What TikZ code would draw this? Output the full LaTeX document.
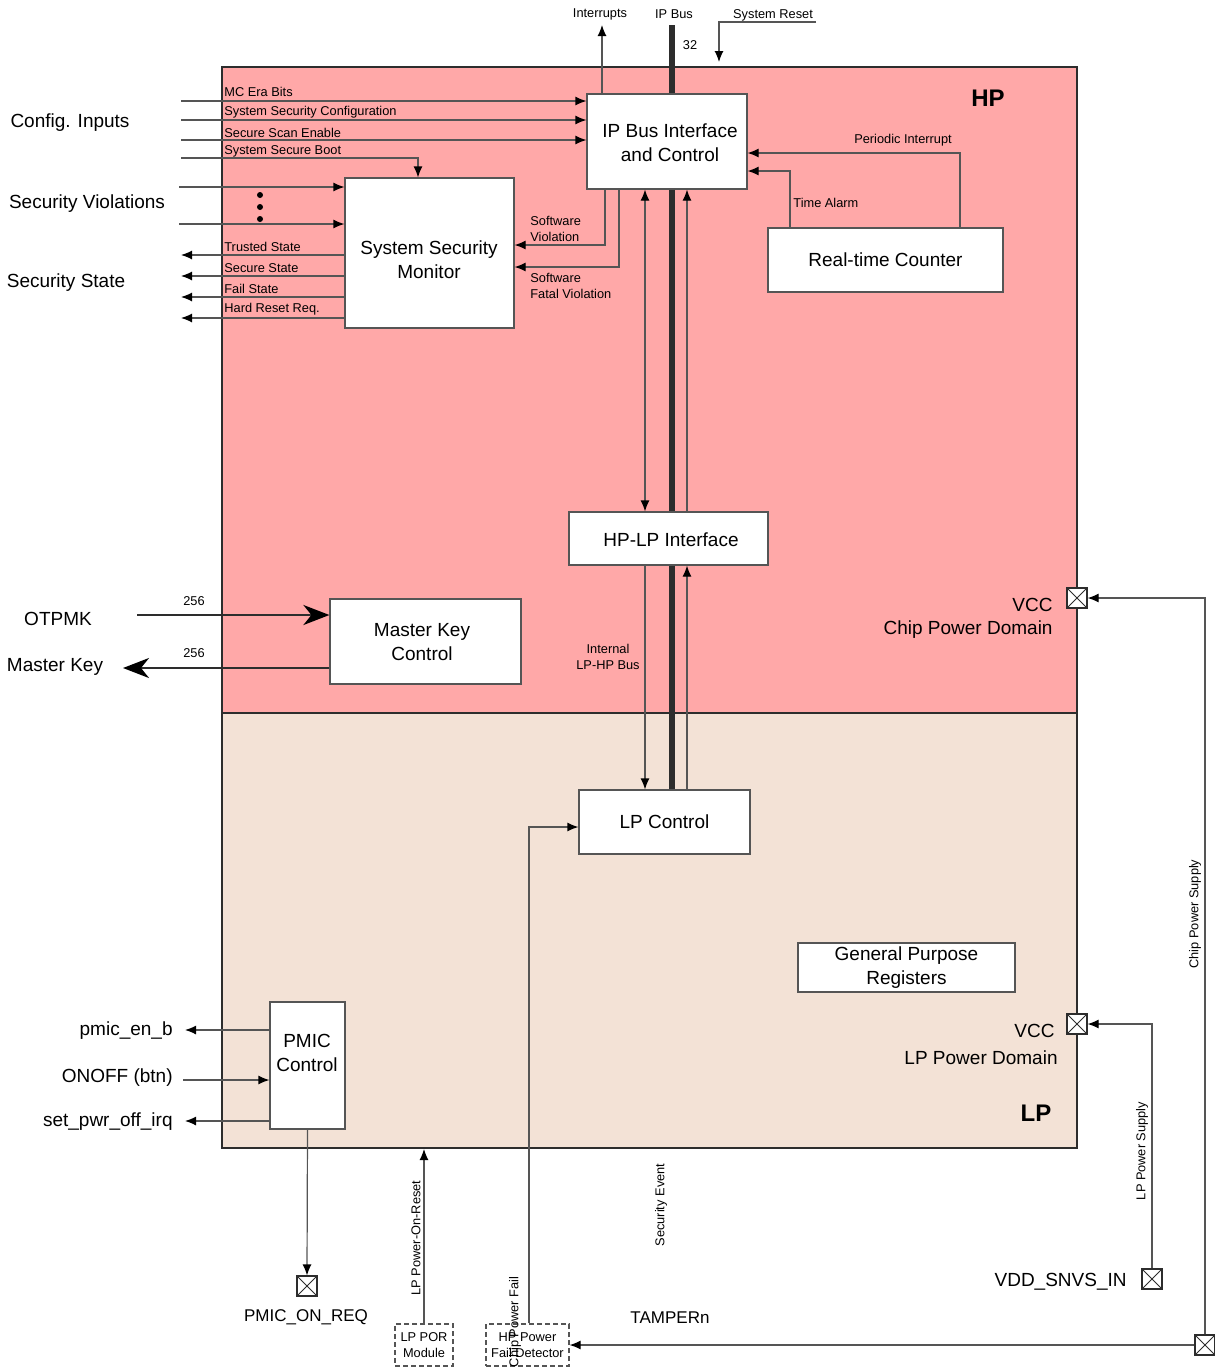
\documentclass[tikz,border=0pt]{standalone}
\usepackage{fontspec}
\setmainfont{Liberation Sans}
\usetikzlibrary{arrows.meta}
\definecolor{hpfill}{RGB}{255,168,168}
\definecolor{lpfill}{RGB}{243,226,214}
\definecolor{linec}{RGB}{85,85,85}
\definecolor{dark}{RGB}{45,45,45}
\begin{document}
\begin{tikzpicture}[x=0.5pt,y=-0.5pt,
  big/.style={font=\fontsize{9.5}{12}\selectfont, inner sep=0pt, align=center, yshift=-1.3pt},
  small/.style={font=\fontsize{6.4}{8}\selectfont, inner sep=0pt, align=left, yshift=-0.7pt},
  smallc/.style={font=\fontsize{6.4}{8}\selectfont, inner sep=0pt, align=center, yshift=-0.7pt},
  vsmall/.style={font=\fontsize{6.4}{8}\selectfont, inner sep=0pt, rotate=90},
  bold/.style={font=\fontsize{12}{14}\selectfont\bfseries, inner sep=0pt},
  region/.style={draw=dark, line width=1pt, inner sep=0pt},
  blk/.style={draw=linec, fill=white, line width=0.6pt, font=\fontsize{9.5}{12}\selectfont, align=center, inner sep=0pt},
  dblk/.style={draw=linec, dash pattern=on 2.5pt off 1.5pt, fill=white, line width=0.6pt, font=\fontsize{6.4}{8}\selectfont, align=center, inner sep=0pt},
  sig/.style={draw=linec, line width=0.6pt},
  arr/.style={sig, -{Latex[length=5.5pt,width=4.5pt,black]}},
  darr/.style={sig, {Latex[length=5.5pt,width=4.5pt,black]}-{Latex[length=5.5pt,width=4.5pt,black]}},
  bigarr/.style={draw=dark, line width=1.2pt, -{Stealth[length=13pt,width=10pt,inset=4pt,black]}},
  bus/.style={draw=dark, line width=3pt},
  pad/.style={draw=dark, fill=white, line width=0.6pt, minimum size=10pt, inner sep=0pt,
    path picture={\draw[dark, line width=0.4pt] (path picture bounding box.south west) -- (path picture bounding box.north east)
      (path picture bounding box.north west) -- (path picture bounding box.south east);}},
  dot/.style={circle, fill=black, inner sep=0pt, minimum size=3pt}
]
\useasboundingbox (0,0) rectangle (1215,1367);

% regions
\node[region, fill=hpfill, minimum width=427.5pt, minimum height=323pt] (hp) at (649.5,390) {};
\node[region, fill=lpfill, minimum width=427.5pt, minimum height=217.5pt] (lp) at (649.5,930.5) {};
\node[bold] (hplbl) at (988,98) {HP};
\node[bold] (lplbl) at (1036,1113) {LP};

% blocks
\node[blk, minimum width=80pt, minimum height=47.5pt] (ip) at (667,141.5) {};
\node[big] (iptxt) at (670,140) {IP Bus Interface\\and Control};
\node[blk, minimum width=84.5pt, minimum height=75pt] (ssm) at (429.5,253) {};
\node[big] (ssmtxt) at (429,257) {System Security\\Monitor};
\node[blk, minimum width=117.5pt, minimum height=32pt] (rtc) at (885.5,260) {Real-time Counter};
\node[blk, minimum width=99.5pt, minimum height=26.5pt] (hplp) at (668.5,538.5) {};
\node[big] (hplptxt) at (671,537) {HP-LP Interface};
\node[blk, minimum width=95.5pt, minimum height=42.5pt] (mkc) at (425.5,641.5) {};
\node[big] (mkctxt) at (422,639) {Master Key\\Control};
\node[blk, minimum width=85.5pt, minimum height=32pt] (lpc) at (664.5,822) {LP Control};
\node[blk, minimum width=108.5pt, minimum height=24.5pt] (gpr) at (906.5,967.5) {General Purpose\\Registers};
\node[blk, minimum width=37.5pt, minimum height=63.5pt] (pmic) at (307.5,1065.5) {};
\node[big] (pmictxt) at (307,1050) {PMIC\\Control};
\node[dblk, minimum width=29pt, minimum height=21pt] (lppor) at (424,1345) {LP POR\\Module};
\node[dblk, minimum width=41.5pt, minimum height=21pt] (hpfd) at (527.5,1345) {HP Power\\Fail Detector};

% pads
\node[pad] (padhp) at (1077,598) {};
\node[pad] (padlp) at (1077,1024) {};
\node[pad] (padvdd) at (1152,1279) {};
\node[pad] (padbr) at (1205,1345) {};
\node[pad] (padpmic) at (307,1286) {};

% IP bus
\coordinate (bustop) at (672,25);
\draw[bus] (bustop) -- (bustop |- ip.north);
\draw[bus] (ip.south -| bustop) -- (hplp.north -| bustop);
\draw[bus] (hplp.south -| bustop) -- (lpc.north -| bustop);
\node[small] (ipbuslbl) at (674,13) {IP Bus};
\node[small] (w32) at (690,44) {32};

% interrupts / system reset
\coordinate (intr) at (602,25);
\draw[arr] (ip.north -| intr) -- (intr);
\node[small] (intrlbl) at (600,13) {Interrupts};
\coordinate (sr1) at (816,22);
\coordinate (sr2) at (719,62);
\draw[arr] (sr1) -| (sr2);
\node[small] (srlbl) at (773,14) {System Reset};

% config inputs
\coordinate (c1) at (181,101);
\coordinate (c2) at (181,120);
\coordinate (c3) at (181,140);
\coordinate (c4) at (181,158);
\coordinate (sbx) at (418,0);
\draw[arr] (c1) -- (c1 -| ip.west);
\draw[arr] (c2) -- (c2 -| ip.west);
\draw[arr] (c3) -- (c3 -| ip.west);
\draw[arr] (c4) -| (ssm.north -| sbx);
\node[small, anchor=west] (l1) at (224,91) {MC Era Bits};
\node[small, anchor=west] (l2) at (224,111) {System Security Configuration};
\node[small, anchor=west] (l3) at (224,132) {Secure Scan Enable};
\node[small, anchor=west] (l4) at (224,150) {System Secure Boot};
\node[big] (cfglbl) at (70,120) {Config. Inputs};

% security violations
\coordinate (sv1) at (179,187);
\coordinate (sv2) at (179,224);
\draw[arr] (sv1) -- (sv1 -| ssm.west);
\draw[arr] (sv2) -- (sv2 -| ssm.west);
\node[dot] (d1) at (260,195) {};
\node[dot] (d2) at (260,207) {};
\node[dot] (d3) at (260,219) {};
\node[big] (svlbl) at (87,201) {Security Violations};

% security state outputs
\coordinate (so1) at (181,255);
\coordinate (so2) at (181,276);
\coordinate (so3) at (181,297);
\coordinate (so4) at (181,318);
\draw[arr] (so1 -| ssm.west) -- (so1);
\draw[arr] (so2 -| ssm.west) -- (so2);
\draw[arr] (so3 -| ssm.west) -- (so3);
\draw[arr] (so4 -| ssm.west) -- (so4);
\node[small, anchor=west] (t1) at (224,246) {Trusted State};
\node[small, anchor=west] (t2) at (224,267) {Secure State};
\node[small, anchor=west] (t3) at (224,288) {Fail State};
\node[small, anchor=west] (t4) at (224,308) {Hard Reset Req.};
\node[big] (sslbl) at (66,280) {Security State};

% software violations
\coordinate (swv) at (605,245);
\coordinate (swf) at (619,267);
\draw[arr] (ip.south -| swv) |- (ssm.east |- swv);
\draw[arr] (ip.south -| swf) |- (ssm.east |- swf);
\node[small, anchor=west] (swvlbl) at (530,228) {Software\\Violation};
\node[small, anchor=west] (swflbl) at (530,285) {Software\\Fatal Violation};

% IP <-> HP-LP
\coordinate (xa) at (645,0);
\coordinate (xb) at (687,0);
\draw[darr] (ip.south -| xa) -- (hplp.north -| xa);
\draw[arr] (hplp.north -| xb) -- (ip.south -| xb);
% HP-LP <-> LP control
\draw[arr] (hplp.south -| xa) -- (lpc.north -| xa);
\draw[arr] (lpc.north -| xb) -- (hplp.south -| xb);
\node[smallc] (intbus) at (608,656) {Internal\\LP-HP Bus};

% RTC
\coordinate (pi) at (960,153);
\coordinate (ta) at (790,171);
\draw[arr] (rtc.north -| pi) |- (ip.east |- pi);
\draw[arr] (rtc.north -| ta) |- (ip.east |- ta);
\node[small] (pilbl) at (903,139) {Periodic Interrupt};
\node[small, anchor=west] (talbl) at (793,202) {Time Alarm};

% Master key
\coordinate (otp) at (137,615);
\coordinate (mk) at (123,668);
\draw[bigarr] (otp) -- (otp -| mkc.west);
\draw[bigarr] (mk -| mkc.west) -- (mk);
\node[big] (otplbl) at (58,616) {OTPMK};
\node[big] (mklbl) at (55,664) {Master Key};
\node[small] (n256a) at (194,600) {256};
\node[small] (n256b) at (194,652) {256};

% power domains
\node[big, anchor=east] (vcchp) at (1053,602) {VCC};
\node[big, anchor=east] (cpd) at (1053,627) {Chip Power Domain};
\node[big, anchor=east] (vcclp) at (1055,1028) {VCC};
\node[big, anchor=east] (lpd) at (1058,1055) {LP Power Domain};
\node[big, anchor=east] (vddlbl) at (1127,1279) {VDD\_SNVS\_IN};

\draw[arr] (padbr.north) |- (padhp.east);
\draw[arr] (padvdd.north) |- (padlp.east);
\draw[arr] (padbr.west) -- (hpfd.east);
\node[vsmall] (cpslbl) at (1195,914) {Chip Power Supply};
\node[vsmall] (lpslbl) at (1142,1151) {LP Power Supply};

% PMIC
\coordinate (p1) at (185,1030);
\coordinate (p2) at (183,1080);
\coordinate (p3) at (185,1121);
\draw[arr] (p1 -| pmic.west) -- (p1);
\draw[arr] (p2) -- (p2 -| pmic.west);
\draw[arr] (p3 -| pmic.west) -- (p3);
\node[big, anchor=east] (pm1) at (173,1028) {pmic\_en\_b};
\node[big, anchor=east] (pm2) at (173,1075) {ONOFF (btn)};
\node[big, anchor=east] (pm3) at (173,1119) {set\_pwr\_off\_irq};
\draw[arr] (pmic.south) -- (padpmic.north);
\node[big, font=\fontsize{8.5}{10}\selectfont] (pmreq) at (306,1315) {PMIC\_ON\_REQ};

% bottom
\draw[arr] (lppor.north) -- (lppor.north |- lp.south);
\node[vsmall] (porlbl) at (416,1238) {LP Power-On-Reset};
\coordinate (cpf) at (529,827);
\draw[arr] (hpfd.north -| cpf) |- (lpc.west |- cpf);
\node[vsmall] (cpflbl) at (515,1322) {Chip Power Fail};
\node[vsmall] (selbl) at (661,1205) {Security Event};
\node[big, font=\fontsize{8.5}{10}\selectfont] (tamp) at (670,1315) {TAMPERn};
\end{tikzpicture}
\end{document}
